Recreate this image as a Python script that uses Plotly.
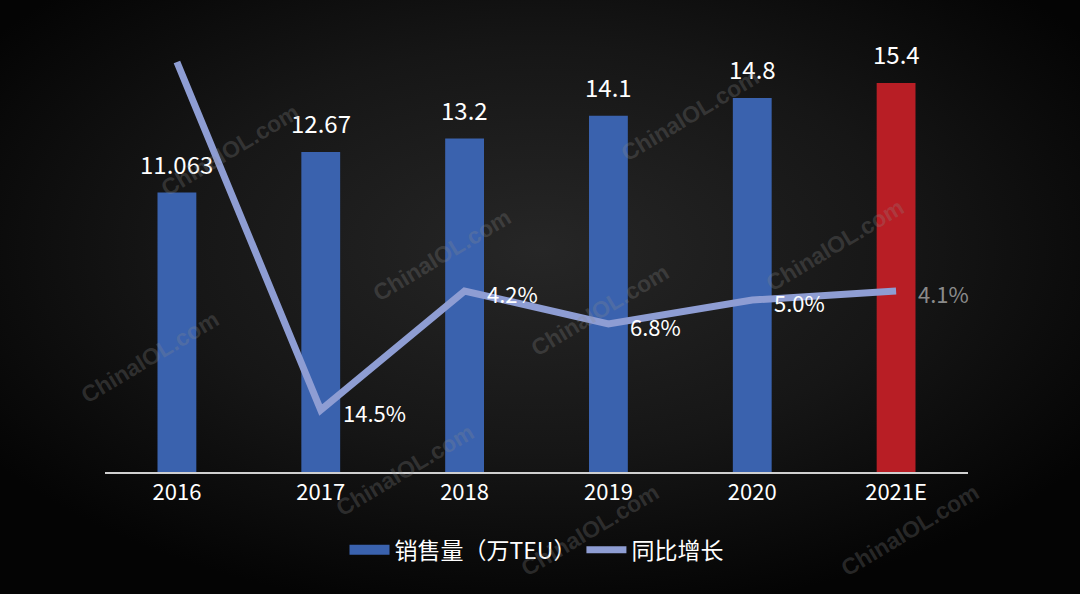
import base64
import plotly.graph_objects as go

# ---------------- data ----------------
years = ["2016", "2017", "2018", "2019", "2020", "2021E"]
sales = [11.063, 12.67, 13.2, 14.1, 14.8, 15.4]          # 销售量（万TEU）
sales_labels = ["11.063", "12.67", "13.2", "14.1", "14.8", "15.4"]
growth_drawn = [41.0, 6.2, 18.1, 14.8, 17.2, 18.1]        # line as drawn (hidden axis)
growth_labels = ["", "14.5%", "4.2%", "6.8%", "5.0%", "4.1%"]

bar_colors = ["#3A62AE"] * 5 + ["#B81E25"]
growth_label_colors = ["#ffffff"] * 5 + ["#8a8a8a"]
LINE_COLOR = "#8E9DD3"
FONT = "Noto Sans CJK SC, Noto Sans, sans-serif"

# ---------------- layout geometry ----------------
W, H = 1080, 594
ML, MR, MT, MB = 105, 112, 40, 122
PW, PH = W - ML - MR, H - MT - MB

fig = go.Figure()

fig.add_trace(go.Bar(
    x=years, y=sales, marker=dict(color=bar_colors, line=dict(width=0)),
    width=0.27, showlegend=False, hoverinfo="skip",
))
fig.add_trace(go.Scatter(
    x=years, y=growth_drawn, yaxis="y2", mode="lines",
    line=dict(color=LINE_COLOR, width=7), showlegend=False, hoverinfo="skip",
))
# legend entries
fig.add_trace(go.Scatter(x=[years[0]], y=[None], mode="lines",
                         line=dict(color="#3A62AE", width=12),
                         name="销售量（万TEU）", hoverinfo="skip"))
fig.add_trace(go.Scatter(x=[years[0]], y=[None], mode="lines",
                         line=dict(color=LINE_COLOR, width=7),
                         name="同比增长", hoverinfo="skip"))

annotations = []
for i, (v, t) in enumerate(zip(sales, sales_labels)):
    annotations.append(dict(x=i, y=v, xref="x", yref="y", text=t,
                            showarrow=False, yanchor="bottom", yshift=10,
                            font=dict(family=FONT, size=24, color="#ffffff")))
for i, (v, t, c) in enumerate(zip(growth_drawn, growth_labels, growth_label_colors)):
    if t:
        annotations.append(dict(x=i, y=v, xref="x", yref="y2", text=t,
                                showarrow=False, xanchor="left", yanchor="middle",
                                xshift=20, yshift=-2,
                                font=dict(family=FONT, size=22, color=c)))

# watermarks
wm = [(150, 357), (230, 150), (442, 255), (600, 310), (690, 115),
      (835, 245), (405, 470), (590, 530), (910, 530)]
for px, py in wm:
    annotations.append(dict(x=(px - ML) / PW, y=(H - MB - py) / PH,
                            xref="paper", yref="paper", text="<b>ChinaIOL.com</b>",
                            xanchor="center", yanchor="middle",
                            showarrow=False, textangle=-31,
                            font=dict(family="Liberation Sans, Arial", size=23,
                                      color="rgba(140,140,140,0.26)")))

# background radial gradient
svg = f'''<svg xmlns="http://www.w3.org/2000/svg" width="{W}" height="{H}" viewBox="0 0 {W} {H}">
<defs><radialGradient id="g" cx="0.5" cy="0.42" r="0.62">
<stop offset="0" stop-color="#262626"/><stop offset="0.55" stop-color="#161616"/>
<stop offset="1" stop-color="#040404"/></radialGradient></defs>
<rect width="{W}" height="{H}" fill="url(#g)"/></svg>'''
src = "data:image/svg+xml;base64," + base64.b64encode(svg.encode()).decode()

fig.update_layout(
    width=W, height=H,
    margin=dict(l=ML, r=MR, t=MT, b=MB),
    paper_bgcolor="#0c0c0c", plot_bgcolor="rgba(0,0,0,0)",
    font=dict(family=FONT, color="#ffffff"),
    images=[dict(source=src, xref="paper", yref="paper",
                 x=-ML / PW, y=1 + MT / PH, sizex=W / PW, sizey=H / PH,
                 xanchor="left", yanchor="top", sizing="stretch", layer="below")],
    xaxis=dict(type="category", categoryorder="array", categoryarray=years,
               range=[-0.5, len(years) - 0.5],
               showgrid=False, zeroline=False, showline=True,
               linecolor="#d0d0d0", linewidth=1.5, ticks="",
               tickfont=dict(family=FONT, size=22, color="#ffffff")),
    yaxis=dict(range=[0, 17.1], visible=False, showgrid=False),
    yaxis2=dict(range=[0, 43.2], overlaying="y", visible=False, showgrid=False),
    legend=dict(orientation="h", x=0.5, xanchor="center", y=-0.18, yanchor="middle",
                font=dict(family=FONT, size=23, color="#ffffff"),
                bgcolor="rgba(0,0,0,0)", itemwidth=40),
    annotations=annotations,
    bargap=0.73,
)

fig.write_html("out.html", config={"displayModeBar": False},
               post_script="document.body.style.margin='0';document.body.style.background='#0c0c0c';")
